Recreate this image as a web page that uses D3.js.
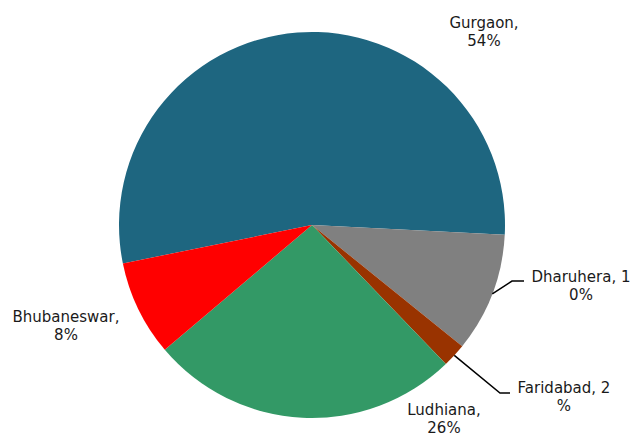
<!DOCTYPE html>
<html>
<head>
<meta charset="utf-8">
<script src="https://cdn.jsdelivr.net/npm/d3@7"></script>
<style>
  html, body { margin: 0; padding: 0; background: #fff; }
  svg { display: block; }
  text { font-family: "DejaVu Sans", Verdana, sans-serif; font-size: 15px; fill: #1a1a1a; }
</style>
</head>
<body>
<svg id="chart" width="635" height="437"></svg>
<script>
// Share of units by city (percent)
const cities = ["Gurgaon", "Dharuhera", "Faridabad", "Ludhiana", "Bhubaneswar"];
const shares = [54, 10, 2, 26, 8];
const colors = ["#1e6680", "#808080", "#993300", "#339966", "#ff0000"];

// Label lines as wrapped in the chart
const labelLines = [
  ["Gurgaon,", "54%"],
  ["Dharuhera, 1", "0%"],
  ["Faridabad, 2", "%"],
  ["Ludhiana,", "26%"],
  ["Bhubaneswar,", "8%"]
];

// Label layout: centre x, first baseline y, optional leader elbow
const labelLayout = [
  { x: 484, y: 28 },
  { x: 581, y: 282, elbow: [512, 281], end: 524 },
  { x: 564, y: 393, elbow: [500, 393], end: 510 },
  { x: 444, y: 415 },
  { x: 66,  y: 322 }
];

const svg = d3.select("#chart");
const cx = 312, cy = 225, R = 193;
const startDeg = -101.5;

const data = cities.map((c, i) => ({ city: c, value: shares[i], i }));

const pie = d3.pie()
  .value(d => d.value)
  .sort(null)
  .startAngle(startDeg * Math.PI / 180)
  .endAngle((startDeg + 360) * Math.PI / 180);

const arc = d3.arc().innerRadius(0).outerRadius(R);

const g = svg.append("g").attr("transform", `translate(${cx},${cy})`);
const arcs = pie(data);

g.selectAll("path.slice")
  .data(arcs)
  .join("path")
  .attr("class", "slice")
  .attr("d", arc)
  .attr("fill", d => colors[d.data.i]);

// Leader lines for the small slices
arcs.forEach(a => {
  const lay = labelLayout[a.data.i];
  if (!lay.elbow) return;
  const mid = (a.startAngle + a.endAngle) / 2;
  const px = cx + R * Math.sin(mid);
  const py = cy - R * Math.cos(mid);
  svg.append("polyline")
    .attr("points", `${px},${py} ${lay.elbow[0]},${lay.elbow[1]} ${lay.end},${lay.elbow[1]}`)
    .attr("fill", "none")
    .attr("stroke", "#000")
    .attr("stroke-width", 1.5);
});

// Category labels with percentages
data.forEach(d => {
  const lay = labelLayout[d.i];
  const t = svg.append("text")
    .attr("text-anchor", "middle")
    .attr("x", lay.x)
    .attr("y", lay.y);
  labelLines[d.i].forEach((line, k) => {
    t.append("tspan")
      .attr("x", lay.x)
      .attr("dy", k === 0 ? 0 : 18)
      .text(line);
  });
});
</script>
</body>
</html>
